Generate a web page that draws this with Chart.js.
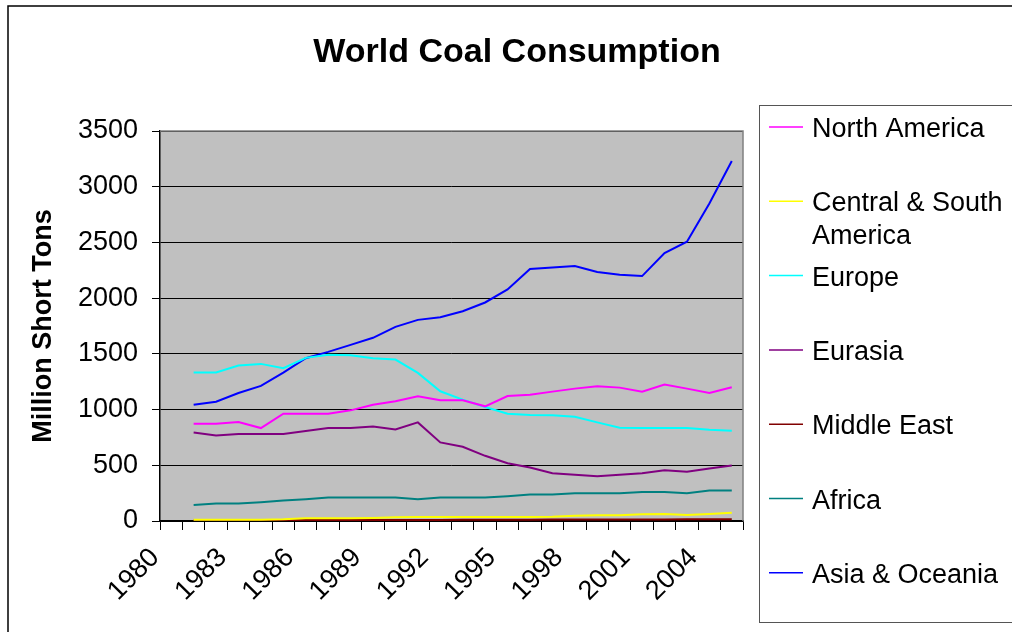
<!DOCTYPE html>
<html>
<head>
<meta charset="utf-8">
<script src="https://cdn.jsdelivr.net/npm/chart.js@4.4.0/dist/chart.umd.min.js"></script>
<style>
  html, body { margin: 0; padding: 0; background: #fff; overflow: hidden; }
  #chart { display: block; }
</style>
</head>
<body>
<canvas id="chart" width="1012" height="632"></canvas>
<script>
// years on the category axis, 1980 has no data
const years = ["1980", "1981", "1982", "1983", "1984", "1985", "1986", "1987", "1988", "1989",
  "1990", "1991", "1992", "1993", "1994", "1995", "1996", "1997", "1998", "1999",
  "2000", "2001", "2002", "2003", "2004", "2005"];

const northAmerica = [null, 873, 873, 888, 834, 963, 963, 963, 993, 1044, 1074, 1119, 1083, 1083, 1029, 1122, 1134, 1161, 1188, 1209, 1197, 1161, 1224, 1188, 1149, 1200];
const centralSouthAmerica = [null, 12, 12, 12, 12, 15, 24, 24, 24, 27, 33, 36, 36, 36, 36, 36, 36, 39, 48, 51, 51, 60, 63, 54, 63, 75];
const europe = [null, 1332, 1332, 1395, 1410, 1371, 1464, 1491, 1488, 1461, 1449, 1329, 1164, 1089, 1023, 963, 951, 948, 936, 885, 837, 834, 834, 834, 819, 810];
const eurasia = [null, 795, 768, 780, 780, 780, 807, 834, 834, 849, 822, 885, 705, 666, 585, 519, 480, 429, 414, 402, 414, 429, 456, 441, 471, 498];
const middleEast = [null, 4, 5, 5, 6, 7, 8, 8, 9, 9, 10, 10, 10, 11, 11, 12, 12, 13, 13, 13, 14, 14, 14, 15, 15, 16];
const africa = [null, 144, 156, 156, 168, 183, 195, 210, 210, 210, 210, 195, 210, 210, 210, 222, 237, 237, 249, 249, 249, 261, 261, 249, 273, 273];
const asiaOceania = [null, 1044, 1071, 1149, 1212, 1332, 1461, 1518, 1581, 1644, 1742, 1805, 1829, 1883, 1961, 2078, 2261, 2276, 2288, 2234, 2210, 2198, 2405, 2507, 2849, 3230];

const FONT = "'Liberation Sans', Arial, sans-serif";
Chart.defaults.font.family = FONT;
Chart.defaults.color = "#000";

function series(label, data, color) {
    return {
        label: label,
        data: data,
        borderColor: color,
        backgroundColor: color,
        borderWidth: 2,
        pointRadius: 0,
        tension: 0,
        spanGaps: false
    };
}

// grey plot area, outer frame, title and the boxed legend on the right
const excelLook = {
    id: "excelLook",
    beforeDraw(chart) {
        const { ctx, chartArea: a } = chart;
        ctx.save();
        ctx.fillStyle = "#c0c0c0";
        ctx.fillRect(a.left, a.top, a.right - a.left, a.bottom - a.top);
        ctx.restore();
    },
    afterDraw(chart) {
        const { ctx, chartArea: a } = chart;
        ctx.save();
        // grey border top/right of plot
        ctx.strokeStyle = "#808080";
        ctx.lineWidth = 1.5;
        ctx.beginPath();
        ctx.moveTo(a.left, a.top);
        ctx.lineTo(a.right, a.top);
        ctx.lineTo(a.right, a.bottom);
        ctx.stroke();

        // outer frame
        ctx.strokeStyle = "#000";
        ctx.lineWidth = 1.5;
        ctx.strokeRect(8, 6, 1200, 1000);

        // title
        ctx.fillStyle = "#000";
        ctx.font = "bold 34px " + FONT;
        ctx.textAlign = "center";
        ctx.textBaseline = "alphabetic";
        ctx.fillText("World Coal Consumption", 517, 62);

        // legend box
        ctx.strokeStyle = "#555";
        ctx.lineWidth = 1;
        ctx.strokeRect(759.5, 105.5, 400, 517);

        ctx.font = "27px " + FONT;
        ctx.textAlign = "left";
        const maxW = 198;
        chart.data.datasets.forEach((ds, i) => {
            const y = 127 + i * 74.3;
            ctx.strokeStyle = ds.borderColor;
            ctx.lineWidth = 1.5;
            ctx.beginPath();
            ctx.moveTo(769, y);
            ctx.lineTo(803, y);
            ctx.stroke();
            // word wrap
            const words = ds.label.split(" ");
            const lines = [];
            let cur = "";
            words.forEach(w => {
                const t = cur ? cur + " " + w : w;
                if (ctx.measureText(t).width > maxW && cur) {
                    lines.push(cur);
                    cur = w;
                } else {
                    cur = t;
                }
            });
            lines.push(cur);
            ctx.fillStyle = "#000";
            lines.forEach((ln, k) => ctx.fillText(ln, 812, y + 10 + k * 33));
        });
        ctx.restore();
    }
};

const canvas = document.querySelector("#chart");
const chart = new Chart(canvas, {
    type: "line",
    data: {
        labels: years,
        datasets: [
            series("North America", northAmerica, "#ff00ff"),
            series("Central & South America", centralSouthAmerica, "#ffff00"),
            series("Europe", europe, "#00ffff"),
            series("Eurasia", eurasia, "#800080"),
            series("Middle East", middleEast, "#800000"),
            series("Africa", africa, "#008080"),
            series("Asia & Oceania", asiaOceania, "#0000ff")
        ]
    },
    options: {
        responsive: false,
        animation: false,
        layout: { padding: { left: 18, right: 269, top: 131, bottom: 0 } },
        plugins: {
            legend: { display: false },
            title: { display: false },
            tooltip: { enabled: false }
        },
        scales: {
            x: {
                offset: true,
                grid: { offset: true, drawOnChartArea: false, color: "#000", tickLength: 9 },
                border: { color: "#000", width: 1.5 },
                ticks: {
                    autoSkip: false,
                    minRotation: 45,
                    maxRotation: 45,
                    labelOffset: -16,
                    padding: 12,
                    font: { size: 27 },
                    callback: function (v, i) { return i % 3 === 0 ? this.getLabelForValue(v) : ""; }
                },
                afterFit(s) { s.height = 111; }
            },
            y: {
                min: 0,
                max: 3500,
                grid: { color: "#000", tickLength: 8 },
                border: { color: "#000", width: 1.5 },
                ticks: { stepSize: 500, padding: 14, font: { size: 27 }, callback: v => String(v) },
                title: {
                    display: true,
                    text: "Million Short Tons",
                    font: { size: 27, weight: "bold" },
                    padding: { top: 9, bottom: 0 }
                },
                afterFit(s) { s.width = 142; }
            }
        }
    },
    plugins: [excelLook]
});
</script>
</body>
</html>
